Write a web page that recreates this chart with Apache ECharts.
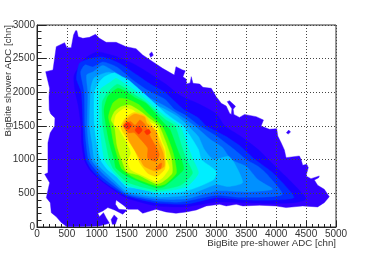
<!DOCTYPE html>
<html><head><meta charset="utf-8">
<style>html,body{margin:0;padding:0;background:#fff}#c{width:374px;height:253px}</style>
<script src="https://cdn.jsdelivr.net/npm/echarts@6/dist/echarts.min.js"></script>
</head><body><div id="c"></div>
<script>
const xName = "BigBite pre-shower ADC [chn]";
const yName = "BigBite shower ADC [chn]";
const levelColors = ["#3300ff","#1800ff","#0030ff","#0060ff","#0090ff","#00bcff","#00eeff","#00ffc0","#00ff80","#00ff30","#60ff00","#c8ff00","#ffff00","#ffd000","#ffa000","#ff6a00","#ff3000"];
const level0 = [[645,2916],[667,2916],[689,2827],[767,2802],[878,2817],[978,2861],[1045,2802],[1156,2743],[1323,2743],[1490,2678],[1656,2648],[1768,2554],[1935,2455],[2100,2356],[2296,2257],[2324,2381],[2435,2332],[2480,2320],[2440,2230],[2497,2193],[2497,2124],[2560,2140],[2580,2233],[2608,2134],[2720,2124],[2775,2074],[2914,2060],[2997,1936],[3081,1837],[3164,1797],[3220,1690],[3250,1672],[3259,1757],[3181,1862],[3220,1876],[3320,1792],[3281,1747],[3292,1672],[3386,1628],[3470,1672],[3665,1639],[3787,1589],[3748,1500],[3887,1451],[4009,1461],[4026,1352],[4082,1253],[4137,1144],[4165,1030],[4387,1055],[4415,1006],[4443,917],[4510,931],[4537,882],[4498,758],[4582,718],[4721,758],[4710,733],[4638,699],[4693,620],[4804,560],[4888,451],[4804,362],[4693,298],[4443,313],[4165,288],[3998,313],[3720,323],[3442,313],[3331,337],[3164,313],[3053,337],[2831,313],[2664,253],[2497,224],[2324,204],[2157,224],[1990,263],[1768,204],[1685,263],[1518,263],[1462,313],[1323,402],[1312,337],[1368,263],[1507,253],[1434,189],[1295,253],[1184,288],[1101,238],[1017,204],[1045,154],[1112,213],[1156,139],[1212,55],[1045,15],[500,5],[406,65],[322,154],[239,213],[222,362],[156,436],[211,659],[128,783],[183,807],[183,1005],[183,1253],[222,1400],[295,1500],[300,1620],[230,1680],[205,1740],[200,1936],[211,2060],[145,2307],[267,2332],[322,2678],[461,2738],[500,2663],[572,2663],[611,2851]];
const islandA = [[1240,110],[1290,180],[1345,130],[1310,40],[1260,40]];
const islandB = [[1880,2570],[1920,2600],[1945,2550],[1900,2520]];
const islandC = [[4170,1400],[4210,1440],[4240,1410],[4200,1380]];
const level1 = [[800,2500],[1000,2600],[1300,2540],[1600,2430],[1850,2300],[2139,2130],[2400,1950],[2700,1830],[3000,1680],[3140,1500],[3400,1350],[3700,1150],[3870,1000],[4150,760],[4500,420],[4300,360],[3800,350],[3000,370],[2500,300],[2000,312],[1500,430],[1250,570],[1050,700],[880,850],[790,1000],[745,1250],[735,1500],[690,1800],[640,2000],[620,2250]];
const level2 = [[714,2437],[933,2510],[1100,2525],[1383,2430],[1667,2260],[1900,2120],[2139,2000],[2450,1747],[2700,1620],[2833,1500],[3150,1350],[3400,1200],[3650,1000],[3950,800],[4300,440],[4000,400],[3500,400],[3000,435],[2500,340],[2000,356],[1500,460],[1250,590],[1050,720],[905,860],[820,1000],[780,1250],[770,1500],[740,2000],[660,2200]];
const level3 = [[730,2300],[800,2407],[933,2377],[1100,2452],[1333,2377],[1600,2184],[1850,2030],[2139,1896],[2300,1747],[2500,1650],[2720,1500],[3000,1350],[3300,1150],[3500,1000],[3700,900],[3850,780],[4100,480],[3400,440],[3000,470],[2400,370],[2000,386],[1500,480],[1280,610],[1080,750],[950,880],[860,1000],[820,1250],[800,1500],[790,2000]];
const level4 = [[830,2258],[933,2303],[1100,2400],[1300,2303],[1550,2160],[1800,1960],[2139,1797],[2400,1650],[2640,1500],[2900,1300],[3100,1180],[3250,1000],[3500,900],[3700,700],[3940,560],[3500,520],[3000,535],[2500,420],[2000,415],[1500,500],[1300,640],[1120,780],[990,900],[910,1000],[860,1250],[840,1500],[850,2000]];
const level5 = [[900,2065],[960,2220],[1200,2300],[1400,2229],[1600,2100],[1800,1900],[2139,1747],[2350,1640],[2527,1500],[2700,1340],[2800,1150],[2950,1000],[3200,1050],[3300,950],[3440,660],[3200,600],[3000,630],[2500,470],[2000,445],[1500,530],[1320,670],[1150,810],[1045,900],[960,1000],[920,1250],[880,1500]];
const level6 = [[960,2000],[1040,2150],[1127,2230],[1290,2290],[1405,2240],[1517,2190],[1628,2109],[1767,2000],[2139,1698],[2300,1590],[2444,1500],[2600,1300],[2700,1150],[2750,1000],[2900,900],[3000,820],[2950,700],[2500,535],[2000,490],[1850,544],[1628,579],[1500,590],[1322,752],[1183,851],[1060,1000],[1000,1250],[960,1500]];
const level7 = [[1045,2000],[1072,2060],[1239,2158],[1322,2208],[1461,2134],[1628,2035],[1767,1935],[2139,1650],[2390,1500],[2500,1250],[2611,1000],[2700,800],[2500,600],[2000,520],[1500,620],[1300,790],[1130,1000],[1080,1250],[1050,1500]];
const level8 = [[1090,1850],[1183,2000],[1340,2120],[1480,2060],[1640,1960],[1800,1870],[2139,1599],[2305,1500],[2420,1200],[2500,1000],[2600,800],[2400,620],[2000,550],[1500,670],[1280,860],[1210,1000],[1150,1250],[1100,1500]];
const level9 = [[1120,1738],[1183,1935],[1350,2060],[1489,2010],[1656,1911],[1823,1837],[2139,1525],[2222,1450],[2350,1150],[2417,1000],[2450,850],[2128,600],[2000,580],[1628,703],[1461,777],[1322,876],[1290,1000],[1210,1250],[1156,1500]];
const level10 = [[1195,1639],[1267,1837],[1378,1911],[1517,1896],[1712,1812],[1851,1688],[2090,1500],[2180,1340],[2260,1150],[2305,1000],[2330,800],[2150,640],[2000,610],[1628,730],[1420,860],[1360,1000],[1280,1250],[1230,1500]];
const level11 = [[1240,1589],[1295,1713],[1406,1787],[1545,1812],[1739,1713],[1878,1614],[2040,1500],[2139,1300],[2200,1150],[2250,1000],[2260,800],[2100,670],[2000,640],[1700,770],[1500,820],[1430,960],[1340,1200],[1295,1500]];
const level12 = [[1290,1515],[1322,1663],[1461,1762],[1600,1738],[1712,1663],[1880,1560],[2000,1500],[2100,1250],[2139,1178],[2167,1000],[2211,876],[2100,730],[1989,678],[1739,777],[1570,851],[1517,975],[1570,1099],[1489,1272],[1350,1480]];
const level13 = [[1400,1480],[1480,1620],[1620,1700],[1800,1660],[1900,1540],[1980,1440],[2060,1290],[2130,1130],[2150,950],[2130,850],[2000,750],[1850,800],[1720,950],[1640,1130],[1530,1280]];
const level14 = [[1440,1520],[1500,1600],[1634,1679],[1801,1634],[1834,1545],[1918,1486],[2006,1400],[2017,1297],[2110,1100],[2128,901],[1989,827],[1795,901],[1712,1025],[1628,1148],[1545,1272],[1489,1420]];
const level15a = [[1450,1500],[1560,1570],[1640,1510],[1720,1590],[1800,1530],[1851,1445],[1906,1322],[1989,1198],[2045,1074],[1989,975],[1851,1025],[1851,1173],[1712,1322],[1628,1400],[1530,1400]];
const level15c = [[1980,860],[2040,930],[2085,950],[2070,870]];
const level16a = [[1450,1500],[1510,1560],[1580,1510],[1530,1450]];
const level16b = [[1640,1440],[1700,1500],[1760,1440],[1700,1380]];
const level16c = [[1800,1420],[1870,1450],[1900,1400],[1840,1370]];

const xMax = 5000, yMax = 3000;
const shapes = [
  [level0,0],[islandA,0],[islandB,0],[islandC,0],[level1,1],[level2,2],[level3,3],[level4,4],[level5,5],[level6,6],[level7,7],[level8,8],[level9,9],[level10,10],[level11,11],[level12,12],[level13,13],[level14,14],[level15a,15],[level15c,15],[level16a,16],[level16b,16],[level16c,16]
];
const series = shapes.map(([pts,lv]) => ({
  type:'custom', coordinateSystem:'cartesian2d', clip:true, silent:true, animation:false, z:2,
  data: pts, encode:{x:0,y:1},
  renderItem(params, api){
    if(params.dataIndex!==0) return null;
    return {type:'polygon', shape:{points:pts.map(p=>api.coord(p)), smooth: lv>=1?0.2:0}, style:{fill:levelColors[lv], stroke:levelColors[lv], lineWidth:0.4}};
  }
}));
const plain = v => String(v);
const axisCommon = {
  type:'value', z:10, min:0,
  axisLine:{show:true,onZero:false,lineStyle:{color:'#222',width:1}},
  splitLine:{show:true,lineStyle:{color:'#444',type:[1,2],width:1}}
};
const labelStyle = {color:'#333',fontFamily:'Liberation Sans',fontSize:10,showMinLabel:true,showMaxLabel:true,hideOverlap:false,formatter:plain};
const chart = echarts.init(document.getElementById('c'),null,{renderer:'canvas'});
chart.setOption({
  animation:false, backgroundColor:'#fff',
  grid:{left:37,right:38,top:25,bottom:26,show:true,borderColor:'#333',borderWidth:1,backgroundColor:'transparent',outerBoundsMode:'none',containLabel:false},
  xAxis:Object.assign({},axisCommon,{max:xMax,interval:500,
    axisTick:{show:true,inside:true,length:6,lineStyle:{color:'#222'}},
    minorTick:{show:true,splitNumber:5,length:3,lineStyle:{color:'#222'}},
    axisLabel:Object.assign({},labelStyle,{margin:2})}),
  yAxis:Object.assign({},axisCommon,{max:yMax,interval:500,
    axisTick:{show:true,inside:true,length:9,lineStyle:{color:'#222'}},
    minorTick:{show:true,splitNumber:5,length:4.5,lineStyle:{color:'#222'}},
    axisLabel:Object.assign({},labelStyle,{margin:2})}),
  graphic:[
    {type:'text',right:38,top:238.5,z:20,style:{text:xName,fill:'#333',font:'9.7px "Liberation Sans"'}},
    {type:'text',x:3,y:25,rotation:Math.PI/2,originX:0,originY:0,z:20,style:{text:yName,fill:'#333',font:'9.7px "Liberation Sans"',align:'right',verticalAlign:'top'}}
  ],
  series
});
</script></body></html>
